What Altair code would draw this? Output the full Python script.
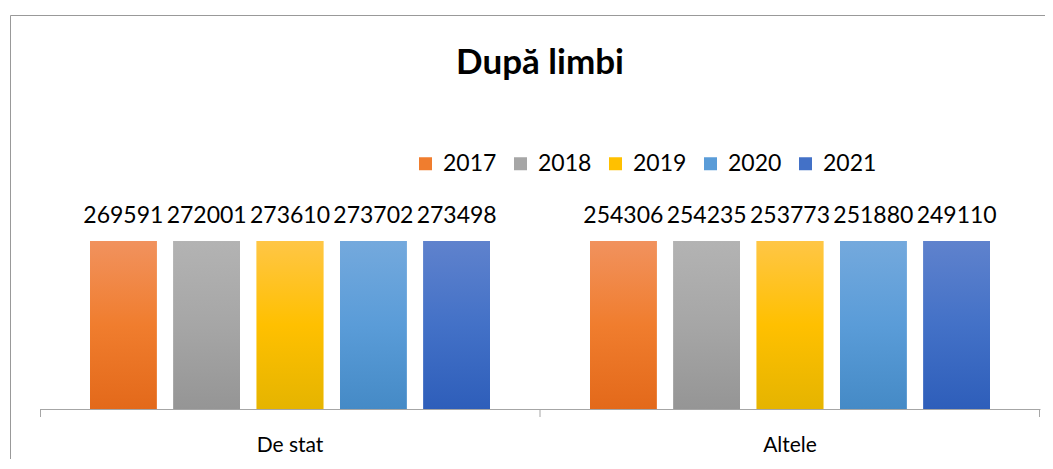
import altair as alt
import pandas as pd

categories = ["De stat", "Altele"]
years = ["2017", "2018", "2019", "2020", "2021"]
de_stat = [269591, 272001, 273610, 273702, 273498]
altele = [254306, 254235, 253773, 251880, 249110]
base_colors = ["#F07D2E", "#A6A6A6", "#FFC000", "#5A9CD8", "#4371C7"]
top_colors = ["#F1925E", "#B3B3B3", "#FFC646", "#74A9DD", "#5F82CD"]
bottom_colors = ["#E3691A", "#959595", "#E5B400", "#458AC6", "#2E5EBA"]

rows = []
for cat, vals in zip(categories, [de_stat, altele]):
    for yr, v in zip(years, vals):
        rows.append({"categorie": cat, "an": yr, "valoare": v})
df = pd.DataFrame(rows)

W, H = 1000, 168
FONT = "Lato"

x = alt.X(
    "categorie:N", sort=categories, title=None,
    scale=alt.Scale(paddingInner=0.2, paddingOuter=0.1),
    axis=alt.Axis(labelAngle=0, ticks=False, domainColor="#a6a6a6", domainWidth=1,
                  labelFont=FONT, labelFontSize=21, labelColor="#000000",
                  labelPadding=25, grid=False),
)
xo = alt.XOffset("an:N", sort=years, scale=alt.Scale(paddingInner=0.2, paddingOuter=0))
y = alt.Y("valoare:Q", scale=alt.Scale(domain=[0, 240000], clamp=True), axis=None)

base = alt.Chart(df).encode(x=x, xOffset=xo, y=y)

bars = base.mark_bar().encode(
    color=alt.Color(
        "an:N", sort=years, title=None,
        scale=alt.Scale(domain=years, range=base_colors),
        legend=alt.Legend(orient="none", legendX=374, legendY=-89, direction="horizontal",
                          symbolType="square", symbolSize=169, symbolStrokeWidth=0,
                          labelFont=FONT, labelFontSize=23, labelColor="#000000",
                          labelOffset=6, columnPadding=12),
    )
)

layers = [bars]
for yr, t, m, b in zip(years, top_colors, base_colors, bottom_colors):
    grad = alt.LinearGradient(
        gradient="linear", x1=0, y1=0, x2=0, y2=1,
        stops=[alt.GradientStop(offset=0, color=t),
               alt.GradientStop(offset=0.5, color=m),
               alt.GradientStop(offset=1, color=b)],
    )
    layers.append(base.mark_bar(fill=grad).transform_filter(alt.datum.an == yr))

labels = base.mark_text(dy=-18, baseline="alphabetic", font=FONT, fontSize=23, color="#000000").encode(
    text=alt.Text("valoare:Q", format="d")
)
layers.append(labels)

one = alt.Data(values=[{"k": 0}])
for tx in [0.5, W / 2, W - 0.5]:
    layers.append(
        alt.Chart(one).mark_rule(color="#a6a6a6", strokeWidth=1).encode(
            x=alt.value(tx), y=alt.value(H), y2=alt.value(H + 8)
        )
    )

border = alt.Chart(one).mark_rect(fill=None, stroke="#999999", strokeWidth=1).encode(
    x=alt.value(-29.5), y=alt.value(-225.5), x2=alt.value(1100), y2=alt.value(400)
)
layers.insert(0, border)

chart = alt.layer(*layers).properties(
    width=W, height=H,
    title=alt.TitleParams("După limbi", font=FONT, fontSize=35, fontWeight="bold",
                          color="#000000", anchor="middle", frame="group", offset=-66),
    autosize=alt.AutoSizeParams(type="none"),
    padding={"left": 32, "top": 233, "right": 5, "bottom": 50},
).configure_view(stroke=None)

chart.save("out.html", embed_options={"renderer": "svg", "actions": False})
